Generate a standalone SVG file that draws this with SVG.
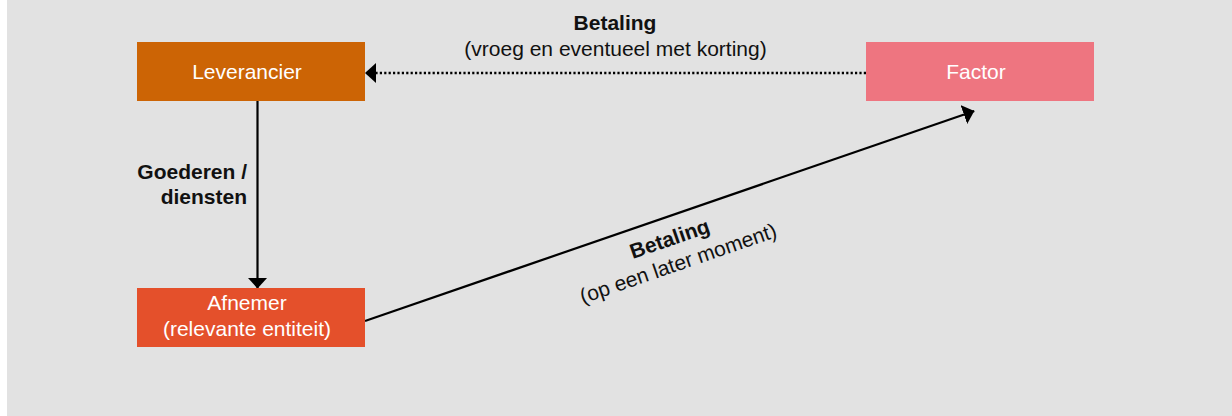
<svg xmlns="http://www.w3.org/2000/svg" width="1232" height="416" viewBox="0 0 1232 416">
  <style>
    .node-text { font-family: "Liberation Sans", Arial, sans-serif; font-size: 21px; fill: #ffffff; text-anchor: middle; }
    .lbl { font-family: "Liberation Sans", Arial, sans-serif; font-size: 21px; fill: #111111; }
    .b { font-weight: bold; }
    .conn { stroke: #000000; stroke-width: 2.2; fill: none; }
    .dotted { stroke-width: 2.6; stroke-dasharray: 2.2 2.2; }
  </style>
  <defs>
    <marker id="arrow" viewBox="0 0 11 20" refX="11" refY="10" markerWidth="11" markerHeight="20" markerUnits="userSpaceOnUse" orient="auto">
      <path d="M0,0 L11,10 L0,20 Z" fill="#000000"/>
    </marker>
  </defs>
  <rect x="7" y="0" width="1225" height="416" fill="#E2E2E2"/>

  <g id="connectors">
    <line class="conn" x1="257.5" y1="101" x2="257.5" y2="288.5" marker-end="url(#arrow)"/>
    <line class="conn dotted" x1="866" y1="73" x2="365" y2="73" marker-end="url(#arrow)"/>
    <line class="conn" x1="365" y1="321" x2="974.3" y2="111" marker-end="url(#arrow)"/>
  </g>

  <g id="leverancier">
    <rect x="137" y="42" width="228" height="59" fill="#CC6405"/>
    <text class="node-text" x="247" y="79">Leverancier</text>
  </g>

  <g id="factor">
    <rect x="866" y="42" width="228" height="59" fill="#EE7580"/>
    <text class="node-text" x="976" y="79">Factor</text>
  </g>

  <g id="afnemer">
    <rect x="137" y="288" width="228" height="59" fill="#E4502B"/>
    <text class="node-text" x="247" y="310">Afnemer</text>
    <text class="node-text" x="247" y="336">(relevante entiteit)</text>
  </g>

  <g id="labels">
    <text class="lbl b" x="615" y="29.5" text-anchor="middle">Betaling</text>
    <text class="lbl" x="615.5" y="55.5" text-anchor="middle">(vroeg en eventueel met korting)</text>
    <text class="lbl b" x="247" y="179.3" text-anchor="end">Goederen /</text>
    <text class="lbl b" x="247" y="204.3" text-anchor="end">diensten</text>
    <g transform="translate(672,245.5) rotate(-19)">
      <text class="lbl b" x="0" y="0" text-anchor="middle">Betaling</text>
      <text class="lbl" x="0" y="26" text-anchor="middle">(op een later moment)</text>
    </g>
  </g>
</svg>
